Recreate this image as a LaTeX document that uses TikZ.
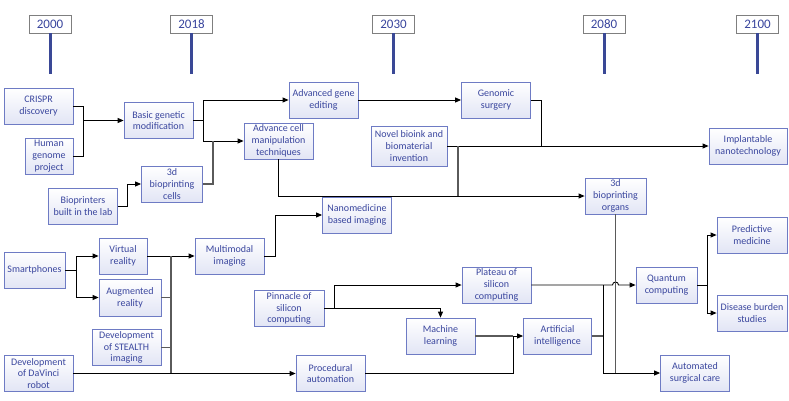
\documentclass[tikz,border=0pt]{standalone}
\usepackage{fontspec}
\setmainfont{Carlito}
\usetikzlibrary{arrows.meta,calc}
\definecolor{boxline}{HTML}{6E7BC4}
\definecolor{boxfill}{HTML}{E2E5F5}
\definecolor{boxtext}{HTML}{3A469E}
\definecolor{yearline}{HTML}{7F7F7F}
\definecolor{polecol}{HTML}{3A4896}
\definecolor{mergecol}{HTML}{5A5A5A}
\begin{document}
\begin{tikzpicture}[x=1pt,y=-1pt,
    box/.style={draw=boxline, line width=0.8pt, top color=white, bottom color=boxfill,
      text=boxtext, font=\fontsize{10}{11.8}\selectfont, align=center,
      minimum width=69pt, minimum height=36pt, inner sep=1pt},
    year/.style={draw=yearline, line width=0.8pt, fill=white, text=boxtext,
      font=\fontsize{13}{14}\selectfont, minimum width=42pt, minimum height=18pt, inner sep=0pt},
    pole/.style={draw=polecol, line width=3pt},
    link/.style={draw=black, line width=0.9pt},
    arr/.style={link, -{Triangle[length=6pt,width=5pt]}},
    merge/.style={draw=mergecol, line width=1.4pt}]
  \useasboundingbox (0,0) rectangle (789,400);

  % timeline
  \node[year] (y2000) at (50,24) {2000};
  \node[year] (y2018) at (191.5,24) {2018};
  \node[year] (y2030) at (393.5,24) {2030};
  \node[year] (y2080) at (604,24) {2080};
  \node[year] (y2100) at (757.5,24) {2100};
  \draw[pole] (y2000.south) -- ++(0,41);
  \draw[pole] (y2018.south) -- ++(0,41);
  \draw[pole] (y2030.south) -- ++(0,41);
  \draw[pole] (y2080.south) -- ++(0,41);
  \draw[pole] (y2100.south) -- ++(0,41);

  % genetics
  \node[box] (crispr) at (38.5,106) {CRISPR\\discovery};
  \node[box, minimum width=48pt] (genome) at (49,156) {Human\\genome\\project};
  \node[box] (basic) at (158.5,120.5) {Basic genetic\\modification};
  \node[box, minimum width=61pt] (cells) at (172,184) {3d\\bioprinting\\cells};
  \node[box] (printers) at (83,206) {Bioprinters\\built in the lab};
  \node[box] (cellman) at (278.5,141) {Advance cell\\manipulation\\techniques};
  \node[box] (geneedit) at (323.5,100) {Advanced gene\\editing};
  \node[box] (surgery) at (496,100) {Genomic\\surgery};
  \node[box, minimum width=76pt, minimum height=40pt] (bioink) at (409,146) {Novel bioink and\\biomaterial\\invention};
  \node[box, minimum width=78pt] (implant) at (748,146) {Implantable\\nanotechnology};
  \node[box, minimum width=61pt] (organs) at (615.5,196) {3d\\bioprinting\\organs};

  % imaging
  \node[box] (nano) at (357,215) {Nanomedicine\\based imaging};
  \node[box] (multi) at (229.5,256) {Multimodal\\imaging};
  \node[box, minimum width=61pt] (phones) at (34.5,270) {Smartphones};
  \node[box, minimum width=48pt] (vr) at (123,256) {Virtual\\reality};
  \node[box, minimum width=62pt, minimum height=37pt] (ar) at (130,297.5) {Augmented\\reality};
  \node[box] (stealth) at (126.5,347.5) {Development\\of STEALTH\\imaging};
  \node[box] (davinci) at (38.5,373.5) {Development\\of DaVinci\\robot};
  \node[box] (proc) at (330.5,373.5) {Procedural\\automation};

  % computing
  \node[box, minimum width=70pt] (pinnacle) at (289,308.5) {Pinnacle of\\silicon\\computing};
  \node[box] (plateau) at (496.5,285) {Plateau of\\silicon\\computing};
  \node[box] (ml) at (440.5,336) {Machine\\learning};
  \node[box, minimum width=68pt] (ai) at (557.5,336) {Artificial\\intelligence};
  \node[box, minimum width=61pt] (quantum) at (666.5,285) {Quantum\\computing};
  \node[box, minimum width=70pt] (predict) at (752,235) {Predictive\\medicine};
  \node[box, minimum width=70pt] (disease) at (752,313) {Disease burden\\studies};
  \node[box] (auto) at (695,373) {Automated\\surgical care};

  % junctions
  \coordinate (jcrispr) at (83,120.5);
  \coordinate (jbasic) at (203,120.5);
  \coordinate (jcells) at (213,141);
  \coordinate (jsurgery) at (541,146);
  \coordinate (jbioink) at (458,146);
  \coordinate (jphones) at (76,270);
  \coordinate (jvr) at (171,256);
  \coordinate (jproc) at (513,336);
  \coordinate (jpinnacle) at (334,308.5);
  \coordinate (jplateau) at (603,285);
  \coordinate (jquantum) at (707,285);
  \coordinate (hop) at (organs.south |- quantum.west);

  % connectors
  \draw[link] (crispr.east) -| (jcrispr);
  \draw[link] (genome.east) -| (jcrispr);
  \draw[arr] (jcrispr) -- (basic.west);
  \draw[link] (basic.east) -- (jbasic);
  \draw[arr] (jbasic) |- (geneedit.west);
  \draw[arr] (jbasic) |- (cellman.west);
  \draw[merge] (cells.east) -| (jcells);
  \draw[arr] (printers.east) -- ++(10,0) |- (cells.west);
  \draw[arr] (geneedit.east) -- (surgery.west);
  \draw[link] (surgery.east) -| (jsurgery);
  \draw[arr] (bioink.east) -- (implant.west);
  \draw[merge] (jbioink) -- (jbioink |- organs.west);
  \draw[arr] (cellman.south) |- (organs.west);

  \draw[arr] (multi.east) -- ++(11,0) |- (nano.west);
  \draw[link] (phones.east) -- (jphones);
  \draw[arr] (jphones) |- (vr.west);
  \draw[arr] (jphones) |- (ar.west);
  \draw[arr] (vr.east) -- (multi.west);
  \draw[merge] (jvr) -- (jvr |- davinci.east);
  \draw[merge] (ar.east) -- (ar.east -| jvr);
  \draw[merge] (stealth.east) -- (stealth.east -| jvr);
  \draw[arr] (davinci.east) -- (proc.west);

  \draw[arr] (proc.east) -| (jproc) -- (ai.west);
  \draw[merge] (ml.east) -- (jproc);
  \draw[link] (pinnacle.east) -- (jpinnacle);
  \draw[arr] (jpinnacle) |- (plateau.west);
  \draw[arr] (jpinnacle) -| (ml.north);
  \draw[arr] (plateau.east) -- ([xshift=-3pt]hop) arc[start angle=180, end angle=0, radius=3pt] -- (quantum.west);
  \draw[arr] (jplateau) |- (auto.west);
  \draw[merge] (ai.east) -- (ai.east -| jplateau);
  \draw[merge] (organs.south) -- (organs.south |- auto.west);
  \draw[link] (quantum.east) -- (jquantum);
  \draw[arr] (jquantum) |- (predict.west);
  \draw[arr] (jquantum) |- (disease.west);
\end{tikzpicture}
\end{document}
